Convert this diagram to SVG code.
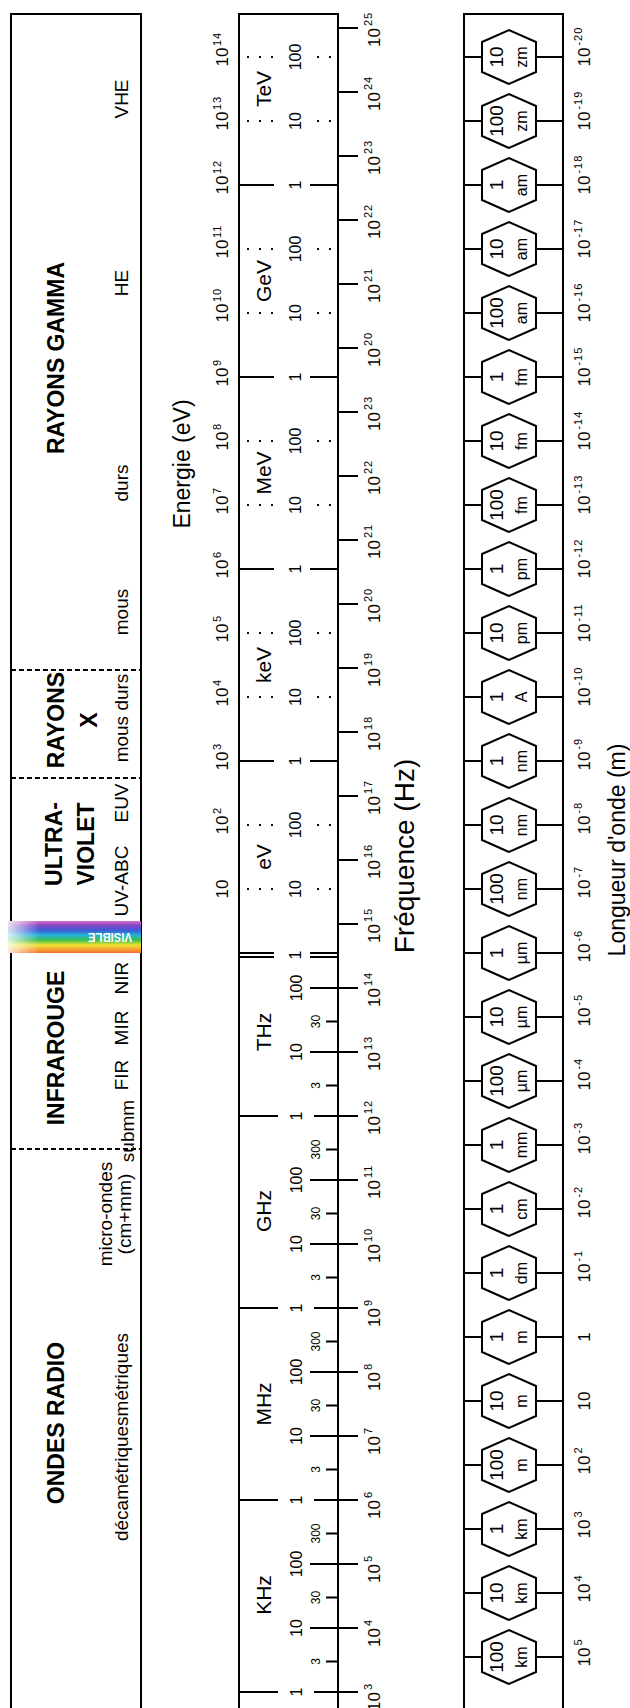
<svg xmlns="http://www.w3.org/2000/svg" width="630" height="1708" viewBox="0 0 630 1708">
<style>
.b{fill:none;stroke:#000;stroke-width:2}
.dt{fill:none;stroke:#000;stroke-width:2;stroke-dasharray:2 10}
.ds{fill:none;stroke:#000;stroke-width:2;stroke-dasharray:5 3}
text{font-family:'Liberation Sans',Arial,sans-serif;fill:#000}
.ti{font-size:23px;font-weight:bold;text-anchor:middle}
.st{font-size:19px;text-anchor:middle}
.ax{font-size:23px;text-anchor:middle}
.u{font-size:21px;text-anchor:middle}
.n{font-size:16px;text-anchor:middle}
.sn{font-size:12px;text-anchor:middle}
.l{font-size:17px}
.lm{font-size:17px;text-anchor:middle}
.sup{font-size:11px;letter-spacing:1px}
.hn{font-size:19px;text-anchor:middle}
.hu{font-size:16px;text-anchor:middle}
.hx{fill:#fff;stroke:#000;stroke-width:2}
.vis{font-size:12px;font-weight:bold;text-anchor:middle;fill:#fff}
</style>
<defs>
<path id="hex" d="M-27,0L-15,-27L15,-27L27,0L15,27L-15,27Z"/>
<linearGradient id="rb" gradientUnits="userSpaceOnUse" x1="787" y1="0" x2="755" y2="0">
<stop offset="0" stop-color="#d86cc4"/>
<stop offset="0.15" stop-color="#7d45c4"/>
<stop offset="0.3" stop-color="#3a5fd6"/>
<stop offset="0.45" stop-color="#22b3d6"/>
<stop offset="0.6" stop-color="#3cbf4c"/>
<stop offset="0.75" stop-color="#eee232"/>
<stop offset="0.88" stop-color="#f5a632"/>
<stop offset="1" stop-color="#ef6a30"/>
</linearGradient>
<linearGradient id="fade" gradientUnits="userSpaceOnUse" x1="0" y1="8" x2="0" y2="40">
<stop offset="0" stop-color="#fff" stop-opacity="0.8"/>
<stop offset="1" stop-color="#fff" stop-opacity="0"/>
</linearGradient>
</defs>
<g transform="translate(0,1708) rotate(-90)">
<g id="boxes">
<rect class="b" x="-5" y="11" width="1699" height="130"/>
<rect class="b" x="-5" y="239" width="1699" height="99"/>
<rect class="b" x="-5" y="464" width="1699" height="99"/>
<path class="ds" d="M1038 11V141M930 11V141M559 11V141"/>
</g>
<g id="visible">
<rect x="755" y="8" width="32" height="133" fill="url(#rb)"/>
<rect x="755" y="8" width="32" height="133" fill="url(#fade)"/>
<g transform="translate(771,110) rotate(-90)"><text class="vis" x="0" y="4.3" textLength="44" lengthAdjust="spacingAndGlyphs">VISIBLE</text></g>
</g>
<g id="bands">
<text class="ti" x="1350" y="64">RAYONS GAMMA</text>
<text class="ti" x="988" y="64">RAYONS</text>
<text class="ti" x="988" y="97">X</text>
<text class="ti" x="864" y="62">ULTRA-</text>
<text class="ti" x="864" y="94">VIOLET</text>
<text class="ti" x="660" y="64">INFRAROUGE</text>
<text class="ti" x="285" y="64">ONDES RADIO</text>
<text class="st" x="1609" y="128">VHE</text>
<text class="st" x="1425" y="128">HE</text>
<text class="st" x="1225" y="128">durs</text>
<text class="st" x="1096" y="128">mous</text>
<text class="st" x="990" y="128">mous durs</text>
<text class="st" x="905" y="128">EUV</text>
<text class="st" x="827" y="128">UV-ABC</text>
<text class="st" x="730" y="128">NIR</text>
<text class="st" x="680" y="128">MIR</text>
<text class="st" x="633" y="128">FIR</text>
<text class="st" x="577" y="134">submm</text>
<text class="st" x="494" y="112">micro-ondes</text>
<text class="st" x="494" y="131">(cm+mm)</text>
<text class="st" x="271" y="128">décamétriquesmétriques</text>
</g>
<g id="axis-titles">
<text class="ax" x="1244" y="190">Energie (eV)</text>
<text class="ax" x="852" y="414" style="font-size:28px">Fréquence (Hz)</text>
<text class="ax" x="858" y="625">Longueur d'onde (m)</text>
</g>
<g id="energy-scale">
<path class="dt" d="M1651 247V273M1651 317V335M1587 247V273M1587 317V335M1459 247V273M1459 317V335M1395 247V273M1395 317V335M1267 247V273M1267 317V335M1203 247V273M1203 317V335M1075 247V273M1075 317V335M1011 247V273M1011 317V335M883 247V273M883 317V335M819 247V273M819 317V335"/>
<path class="b" d="M1523 239V274M1523 310V338M1331 239V274M1331 310V338M1139 239V274M1139 310V338M947 239V274M947 310V338M755 239V274M755 310V338M751 239V274M751 310V338"/>
<text class="l" x="1641.5" y="228">10<tspan class="sup" dx="1.5" dy="-7">14</tspan></text>
<text class="l" x="1577.5" y="228">10<tspan class="sup" dx="1.5" dy="-7">13</tspan></text>
<text class="l" x="1513.5" y="228">10<tspan class="sup" dx="1.5" dy="-7">12</tspan></text>
<text class="l" x="1449.5" y="228">10<tspan class="sup" dx="1.5" dy="-7">11</tspan></text>
<text class="l" x="1385.5" y="228">10<tspan class="sup" dx="1.5" dy="-7">10</tspan></text>
<text class="l" x="1321.5" y="228">10<tspan class="sup" dx="1.5" dy="-7">9</tspan></text>
<text class="l" x="1257.5" y="228">10<tspan class="sup" dx="1.5" dy="-7">8</tspan></text>
<text class="l" x="1193.5" y="228">10<tspan class="sup" dx="1.5" dy="-7">7</tspan></text>
<text class="l" x="1129.5" y="228">10<tspan class="sup" dx="1.5" dy="-7">6</tspan></text>
<text class="l" x="1065.5" y="228">10<tspan class="sup" dx="1.5" dy="-7">5</tspan></text>
<text class="l" x="1001.5" y="228">10<tspan class="sup" dx="1.5" dy="-7">4</tspan></text>
<text class="l" x="937.5" y="228">10<tspan class="sup" dx="1.5" dy="-7">3</tspan></text>
<text class="l" x="873.5" y="228">10<tspan class="sup" dx="1.5" dy="-7">2</tspan></text>
<text class="lm" x="819" y="228">10</text>
<text class="n" x="1651" y="301">100</text>
<text class="n" x="1587" y="301">10</text>
<text class="n" x="1523" y="301">1</text>
<text class="n" x="1459" y="301">100</text>
<text class="n" x="1395" y="301">10</text>
<text class="n" x="1331" y="301">1</text>
<text class="n" x="1267" y="301">100</text>
<text class="n" x="1203" y="301">10</text>
<text class="n" x="1139" y="301">1</text>
<text class="n" x="1075" y="301">100</text>
<text class="n" x="1011" y="301">10</text>
<text class="n" x="947" y="301">1</text>
<text class="n" x="883" y="301">100</text>
<text class="n" x="819" y="301">10</text>
<text class="n" x="753" y="301">1</text>
<text class="u" x="1619" y="271">TeV</text>
<text class="u" x="1427" y="271">GeV</text>
<text class="u" x="1235" y="271">MeV</text>
<text class="u" x="1043" y="271">keV</text>
<text class="u" x="851" y="271">eV</text>
</g>
<g id="frequency-scale">
<path class="b" d="M1680 338V358M1616 338V358M1552 338V358M1488 338V358M1424 338V358M1360 338V358M1296 338V358M1232 338V358M1168 338V358M1104 338V358M1040 338V358M976 338V358M912 338V358M848 338V358M784 338V358"/>
<path class="b" d="M720 310V358M656 310V358M528 310V358M464 310V358M336 310V358M272 310V358M144 310V358M80 310V358"/>
<path class="b" d="M592 239V278M592 314V358M400 239V278M400 314V358M208 239V278M208 314V358M16 239V278M16 314V358"/>
<path class="b" d="M46.5 326V338M110.5 326V338M174.5 326V338M238.5 326V338M302.5 326V338M366.5 326V338M430.5 326V338M494.5 326V338M558.5 326V338M622.5 326V338M686.5 326V338"/>
<text class="l" x="1661" y="380">10<tspan class="sup" dx="2" dy="-8">25</tspan></text>
<text class="l" x="1597" y="380">10<tspan class="sup" dx="2" dy="-8">24</tspan></text>
<text class="l" x="1533" y="380">10<tspan class="sup" dx="2" dy="-8">23</tspan></text>
<text class="l" x="1469" y="380">10<tspan class="sup" dx="2" dy="-8">22</tspan></text>
<text class="l" x="1405" y="380">10<tspan class="sup" dx="2" dy="-8">21</tspan></text>
<text class="l" x="1341" y="380">10<tspan class="sup" dx="2" dy="-8">20</tspan></text>
<text class="l" x="1277" y="380">10<tspan class="sup" dx="2" dy="-8">23</tspan></text>
<text class="l" x="1213" y="380">10<tspan class="sup" dx="2" dy="-8">22</tspan></text>
<text class="l" x="1149" y="380">10<tspan class="sup" dx="2" dy="-8">21</tspan></text>
<text class="l" x="1085" y="380">10<tspan class="sup" dx="2" dy="-8">20</tspan></text>
<text class="l" x="1021" y="380">10<tspan class="sup" dx="2" dy="-8">19</tspan></text>
<text class="l" x="957" y="380">10<tspan class="sup" dx="2" dy="-8">18</tspan></text>
<text class="l" x="893" y="380">10<tspan class="sup" dx="2" dy="-8">17</tspan></text>
<text class="l" x="829" y="380">10<tspan class="sup" dx="2" dy="-8">16</tspan></text>
<text class="l" x="765" y="380">10<tspan class="sup" dx="2" dy="-8">15</tspan></text>
<text class="l" x="701" y="380">10<tspan class="sup" dx="2" dy="-8">14</tspan></text>
<text class="l" x="637" y="380">10<tspan class="sup" dx="2" dy="-8">13</tspan></text>
<text class="l" x="573" y="380">10<tspan class="sup" dx="2" dy="-8">12</tspan></text>
<text class="l" x="509" y="380">10<tspan class="sup" dx="2" dy="-8">11</tspan></text>
<text class="l" x="445" y="380">10<tspan class="sup" dx="2" dy="-8">10</tspan></text>
<text class="l" x="381" y="380">10<tspan class="sup" dx="2" dy="-8">9</tspan></text>
<text class="l" x="317" y="380">10<tspan class="sup" dx="2" dy="-8">8</tspan></text>
<text class="l" x="253" y="380">10<tspan class="sup" dx="2" dy="-8">7</tspan></text>
<text class="l" x="189" y="380">10<tspan class="sup" dx="2" dy="-8">6</tspan></text>
<text class="l" x="125" y="380">10<tspan class="sup" dx="2" dy="-8">5</tspan></text>
<text class="l" x="61" y="380">10<tspan class="sup" dx="2" dy="-8">4</tspan></text>
<text class="l" x="-3" y="380">10<tspan class="sup" dx="2" dy="-8">3</tspan></text>
<text class="n" x="720" y="302">100</text>
<text class="n" x="656" y="302">10</text>
<text class="n" x="592" y="302">1</text>
<text class="n" x="528" y="302">100</text>
<text class="n" x="464" y="302">10</text>
<text class="n" x="400" y="302">1</text>
<text class="n" x="336" y="302">100</text>
<text class="n" x="272" y="302">10</text>
<text class="n" x="208" y="302">1</text>
<text class="n" x="144" y="302">100</text>
<text class="n" x="80" y="302">10</text>
<text class="n" x="16" y="302">1</text>
<text class="sn" x="46.5" y="320">3</text>
<text class="sn" x="110.5" y="320">30</text>
<text class="sn" x="174.5" y="320">300</text>
<text class="sn" x="238.5" y="320">3</text>
<text class="sn" x="302.5" y="320">30</text>
<text class="sn" x="366.5" y="320">300</text>
<text class="sn" x="430.5" y="320">3</text>
<text class="sn" x="494.5" y="320">30</text>
<text class="sn" x="558.5" y="320">300</text>
<text class="sn" x="622.5" y="320">3</text>
<text class="sn" x="686.5" y="320">30</text>
<text class="u" x="676" y="271">THz</text>
<text class="u" x="497" y="271">GHz</text>
<text class="u" x="304" y="271">MHz</text>
<text class="u" x="113" y="271">KHz</text>
</g>
<g id="connectors">
<path class="b" d="M1651 464V482M1651 536V563M1587 464V482M1587 536V563M1523 464V482M1523 536V563M1459 464V482M1459 536V563M1395 464V482M1395 536V563M1331 464V482M1331 536V563M1267 464V482M1267 536V563M1203 464V482M1203 536V563M1139 464V482M1139 536V563M1075 464V482M1075 536V563M1011 464V482M1011 536V563M947 464V482M947 536V563M883 464V482M883 536V563M819 464V482M819 536V563M755 464V482M755 536V563M691 464V482M691 536V563M627 464V482M627 536V563M563 464V482M563 536V563M499 464V482M499 536V563M435 464V482M435 536V563M371 464V482M371 536V563M307 464V482M307 536V563M243 464V482M243 536V563M179 464V482M179 536V563M115 464V482M115 536V563M51 464V482M51 536V563"/>
</g>
<g id="hex-10zm"><use href="#hex" class="hx" x="1651" y="509"/><text class="hn" x="1651" y="503">10</text><text class="hu" x="1651" y="527">zm</text></g>
<g id="hex-100zm"><use href="#hex" class="hx" x="1587" y="509"/><text class="hn" x="1587" y="503">100</text><text class="hu" x="1587" y="527">zm</text></g>
<g id="hex-1am"><use href="#hex" class="hx" x="1523" y="509"/><text class="hn" x="1523" y="503">1</text><text class="hu" x="1523" y="527">am</text></g>
<g id="hex-10am"><use href="#hex" class="hx" x="1459" y="509"/><text class="hn" x="1459" y="503">10</text><text class="hu" x="1459" y="527">am</text></g>
<g id="hex-100am"><use href="#hex" class="hx" x="1395" y="509"/><text class="hn" x="1395" y="503">100</text><text class="hu" x="1395" y="527">am</text></g>
<g id="hex-1fm"><use href="#hex" class="hx" x="1331" y="509"/><text class="hn" x="1331" y="503">1</text><text class="hu" x="1331" y="527">fm</text></g>
<g id="hex-10fm"><use href="#hex" class="hx" x="1267" y="509"/><text class="hn" x="1267" y="503">10</text><text class="hu" x="1267" y="527">fm</text></g>
<g id="hex-100fm"><use href="#hex" class="hx" x="1203" y="509"/><text class="hn" x="1203" y="503">100</text><text class="hu" x="1203" y="527">fm</text></g>
<g id="hex-1pm"><use href="#hex" class="hx" x="1139" y="509"/><text class="hn" x="1139" y="503">1</text><text class="hu" x="1139" y="527">pm</text></g>
<g id="hex-10pm"><use href="#hex" class="hx" x="1075" y="509"/><text class="hn" x="1075" y="503">10</text><text class="hu" x="1075" y="527">pm</text></g>
<g id="hex-1A"><use href="#hex" class="hx" x="1011" y="509"/><text class="hn" x="1011" y="503">1</text><text class="hu" x="1011" y="527">A</text></g>
<g id="hex-1nm"><use href="#hex" class="hx" x="947" y="509"/><text class="hn" x="947" y="503">1</text><text class="hu" x="947" y="527">nm</text></g>
<g id="hex-10nm"><use href="#hex" class="hx" x="883" y="509"/><text class="hn" x="883" y="503">10</text><text class="hu" x="883" y="527">nm</text></g>
<g id="hex-100nm"><use href="#hex" class="hx" x="819" y="509"/><text class="hn" x="819" y="503">100</text><text class="hu" x="819" y="527">nm</text></g>
<g id="hex-1um"><use href="#hex" class="hx" x="755" y="509"/><text class="hn" x="755" y="503">1</text><text class="hu" x="755" y="527">µm</text></g>
<g id="hex-10um"><use href="#hex" class="hx" x="691" y="509"/><text class="hn" x="691" y="503">10</text><text class="hu" x="691" y="527">µm</text></g>
<g id="hex-100um"><use href="#hex" class="hx" x="627" y="509"/><text class="hn" x="627" y="503">100</text><text class="hu" x="627" y="527">µm</text></g>
<g id="hex-1mm"><use href="#hex" class="hx" x="563" y="509"/><text class="hn" x="563" y="503">1</text><text class="hu" x="563" y="527">mm</text></g>
<g id="hex-1cm"><use href="#hex" class="hx" x="499" y="509"/><text class="hn" x="499" y="503">1</text><text class="hu" x="499" y="527">cm</text></g>
<g id="hex-1dm"><use href="#hex" class="hx" x="435" y="509"/><text class="hn" x="435" y="503">1</text><text class="hu" x="435" y="527">dm</text></g>
<g id="hex-1m"><use href="#hex" class="hx" x="371" y="509"/><text class="hn" x="371" y="503">1</text><text class="hu" x="371" y="527">m</text></g>
<g id="hex-10m"><use href="#hex" class="hx" x="307" y="509"/><text class="hn" x="307" y="503">10</text><text class="hu" x="307" y="527">m</text></g>
<g id="hex-100m"><use href="#hex" class="hx" x="243" y="509"/><text class="hn" x="243" y="503">100</text><text class="hu" x="243" y="527">m</text></g>
<g id="hex-1km"><use href="#hex" class="hx" x="179" y="509"/><text class="hn" x="179" y="503">1</text><text class="hu" x="179" y="527">km</text></g>
<g id="hex-10km"><use href="#hex" class="hx" x="115" y="509"/><text class="hn" x="115" y="503">10</text><text class="hu" x="115" y="527">km</text></g>
<g id="hex-100km"><use href="#hex" class="hx" x="51" y="509"/><text class="hn" x="51" y="503">100</text><text class="hu" x="51" y="527">km</text></g>
<g id="wavelength-scale">
<text class="l" x="1641.5" y="590">10<tspan class="sup" dx="2" dy="-8">-20</tspan></text>
<text class="l" x="1577.5" y="590">10<tspan class="sup" dx="2" dy="-8">-19</tspan></text>
<text class="l" x="1513.5" y="590">10<tspan class="sup" dx="2" dy="-8">-18</tspan></text>
<text class="l" x="1449.5" y="590">10<tspan class="sup" dx="2" dy="-8">-17</tspan></text>
<text class="l" x="1385.5" y="590">10<tspan class="sup" dx="2" dy="-8">-16</tspan></text>
<text class="l" x="1321.5" y="590">10<tspan class="sup" dx="2" dy="-8">-15</tspan></text>
<text class="l" x="1257.5" y="590">10<tspan class="sup" dx="2" dy="-8">-14</tspan></text>
<text class="l" x="1193.5" y="590">10<tspan class="sup" dx="2" dy="-8">-13</tspan></text>
<text class="l" x="1129.5" y="590">10<tspan class="sup" dx="2" dy="-8">-12</tspan></text>
<text class="l" x="1065.5" y="590">10<tspan class="sup" dx="2" dy="-8">-11</tspan></text>
<text class="l" x="1001.5" y="590">10<tspan class="sup" dx="2" dy="-8">-10</tspan></text>
<text class="l" x="937.5" y="590">10<tspan class="sup" dx="2" dy="-8">-9</tspan></text>
<text class="l" x="873.5" y="590">10<tspan class="sup" dx="2" dy="-8">-8</tspan></text>
<text class="l" x="809.5" y="590">10<tspan class="sup" dx="2" dy="-8">-7</tspan></text>
<text class="l" x="745.5" y="590">10<tspan class="sup" dx="2" dy="-8">-6</tspan></text>
<text class="l" x="681.5" y="590">10<tspan class="sup" dx="2" dy="-8">-5</tspan></text>
<text class="l" x="617.5" y="590">10<tspan class="sup" dx="2" dy="-8">-4</tspan></text>
<text class="l" x="553.5" y="590">10<tspan class="sup" dx="2" dy="-8">-3</tspan></text>
<text class="l" x="489.5" y="590">10<tspan class="sup" dx="2" dy="-8">-2</tspan></text>
<text class="l" x="425.5" y="590">10<tspan class="sup" dx="2" dy="-8">-1</tspan></text>
<text class="lm" x="371" y="590">1</text>
<text class="lm" x="307" y="590">10</text>
<text class="l" x="233.5" y="590">10<tspan class="sup" dx="2" dy="-8">2</tspan></text>
<text class="l" x="169.5" y="590">10<tspan class="sup" dx="2" dy="-8">3</tspan></text>
<text class="l" x="105.5" y="590">10<tspan class="sup" dx="2" dy="-8">4</tspan></text>
<text class="l" x="41.5" y="590">10<tspan class="sup" dx="2" dy="-8">5</tspan></text>
</g>
</g>
</svg>
